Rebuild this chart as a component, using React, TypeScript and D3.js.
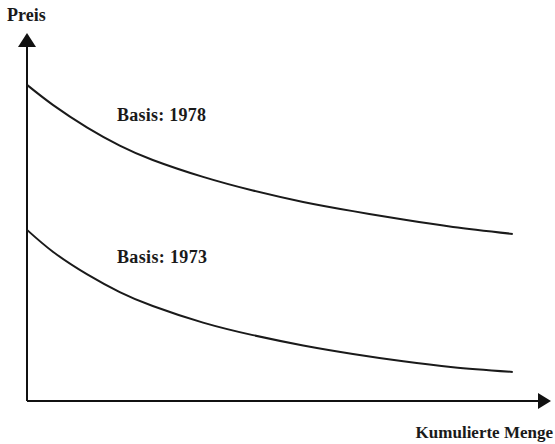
import React from "react";
import * as d3 from "d3";

const menge = [0, 5, 11.5, 17.7, 24, 33.6, 43.1, 52.7, 62.2, 71.8, 81.3, 92.7];
const preis1978 = [85.9, 80.4, 74.3, 69.4, 65.5, 60.9, 57.2, 54.1, 51.6, 49.3, 47.3, 45.4];
const preis1973 = [46.5, 40.5, 34.4, 29.6, 25.8, 21.3, 17.9, 15.1, 12.8, 10.8, 9.2, 7.9];
const labels = ["Basis: 1978", "Basis: 1973"];

const W = 555, H = 444;
const x0 = 27, x1 = 551, yBase = 401, yTop = 33;

export default function App() {
  const x = d3.scaleLinear().domain([0, 100]).range([x0, x1]);
  const y = d3.scaleLinear().domain([0, 100]).range([yBase, yTop]);
  const line = d3
    .line<number>()
    .x((_, i) => x(menge[i]))
    .y((d) => y(d))
    .curve(d3.curveNatural);
  const font = "'Liberation Serif', 'Times New Roman', serif";
  return (
    <svg
      width={W}
      height={H}
      style={{ position: "absolute", left: 0, top: 0, background: "#fff" }}
    >
      <line x1={x0} y1={yBase} x2={x0} y2={45} stroke="#111" strokeWidth={2} />
      <line x1={x0} y1={yBase} x2={540} y2={yBase} stroke="#111" strokeWidth={2} />
      <path d={`M${x0},${yTop} L${x0 - 9},${47} L${x0 + 9},${47} Z`} fill="#111" />
      <path d={`M${x1},${yBase} L${538},${yBase - 8} L${538},${yBase + 8} Z`} fill="#111" />
      <path d={line(preis1978) || ""} fill="none" stroke="#1a1a1a" strokeWidth={2} />
      <path d={line(preis1973) || ""} fill="none" stroke="#1a1a1a" strokeWidth={2} />
      <text x={7} y={21} fontFamily={font} fontWeight="bold" fontSize={18} fill="#1a1a1a">
        Preis
      </text>
      <text x={117} y={121} fontFamily={font} fontWeight="bold" fontSize={18} fill="#1a1a1a" textLength={89}>
        {labels[0]}
      </text>
      <text x={117} y={263} fontFamily={font} fontWeight="bold" fontSize={18} fill="#1a1a1a" textLength={90}>
        {labels[1]}
      </text>
      <text x={553} y={438} textAnchor="end" fontFamily={font} fontWeight="bold" fontSize={17} fill="#1a1a1a">
        Kumulierte Menge
      </text>
    </svg>
  );
}
